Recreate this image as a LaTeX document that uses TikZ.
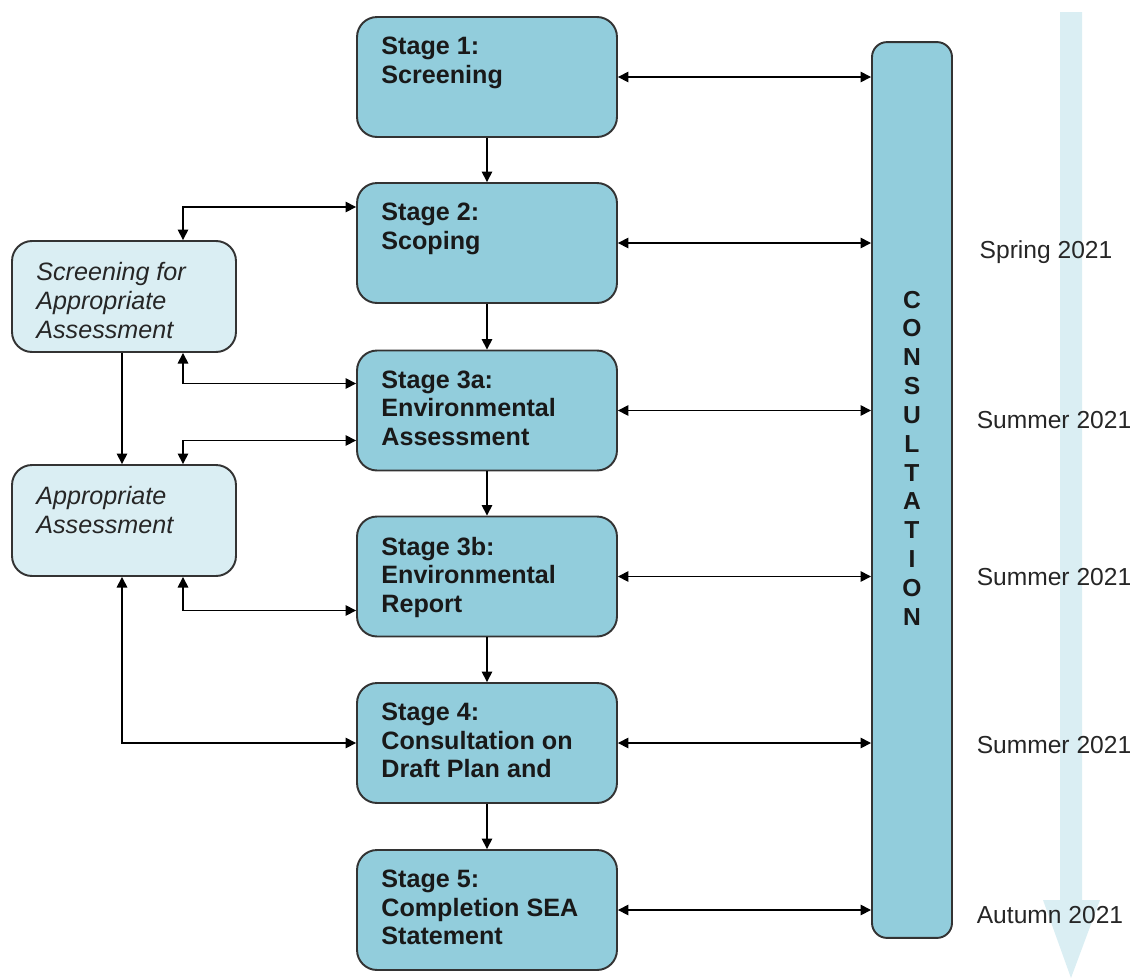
\documentclass[tikz,border=0pt]{standalone}
\usepackage{fontspec}
\setmainfont{Liberation Sans}
\usetikzlibrary{arrows.meta,calc}
\definecolor{stagefill}{HTML}{92CDDC}
\definecolor{lightfill}{HTML}{DAEEF3}
\definecolor{edgecol}{HTML}{333333}
\begin{document}
\begin{tikzpicture}[x=0.02cm,y=-0.02cm,
  stagebox/.style={draw=edgecol, line width=1.1pt, fill=stagefill, rounded corners=0.4cm, minimum width=5.2cm, minimum height=2.4cm, inner sep=0},
  sidebox/.style={draw=edgecol, line width=1.1pt, fill=lightfill, rounded corners=0.4cm, minimum width=4.48cm, minimum height=2.22cm, inner sep=0},
  stagetext/.style={anchor=north west, inner sep=0, align=left, text=black!90, font=\fontsize{14.3}{16.2}\selectfont\bfseries},
  sidetext/.style={anchor=north west, inner sep=0, align=left, text=black!85, font=\fontsize{14.3}{16.5}\selectfont\itshape},
  timetext/.style={inner sep=0, text=black!85, font=\fontsize{14}{16}\selectfont},
  conn/.style={line width=0.9pt, {Triangle[length=6pt,width=6pt]}-{Triangle[length=6pt,width=6pt]}},
  flow/.style={line width=0.9pt, -{Triangle[length=6pt,width=6pt]}},
]
\useasboundingbox (0,0) rectangle (1134,978);
% timeline arrow
\fill[lightfill] (1060,12) -- (1082,12) -- (1082,900) -- (1100,900) -- (1071,978) -- (1043,900) -- (1060,900) -- cycle;

% stage boxes
\node[stagebox] (s1) at (487,77) {};
\node[stagebox] (s2) at (487,243) {};
\node[stagebox] (s3a) at (487,410.5) {};
\node[stagebox] (s3b) at (487,576.5) {};
\node[stagebox] (s4) at (487,743) {};
\node[stagebox] (s5) at (487,910) {};
\node[stagetext] (t1) at ($(s1.north west)+(25,21)$) {Stage 1:\\Screening};
\node[stagetext] (t2) at ($(s2.north west)+(25,21)$) {Stage 2:\\Scoping};
\node[stagetext] (t3a) at ($(s3a.north west)+(25,21)$) {Stage 3a:\\Environmental\\Assessment};
\node[stagetext] (t3b) at ($(s3b.north west)+(25,21)$) {Stage 3b:\\Environmental\\Report};
\node[stagetext] (t4) at ($(s4.north west)+(25,21)$) {Stage 4:\\Consultation on\\Draft Plan and};
\node[stagetext] (t5) at ($(s5.north west)+(25,21)$) {Stage 5:\\Completion SEA\\Statement};

% consultation bar
\node[stagebox, minimum width=1.6cm, minimum height=17.92cm, rounded corners=0.3cm] (cons) at (912,490) {};
\node[align=center, inner sep=0, text=black!90, font=\fontsize{14}{16.4}\selectfont\bfseries] (ctext) at (912,458) {C\\O\\N\\S\\U\\L\\T\\A\\T\\I\\O\\N};

% side boxes
\node[sidebox] (saa) at (124,296.5) {};
\node[sidebox] (aa) at (124,520.5) {};
\node[sidetext] (tsaa) at ($(saa.north west)+(25,22)$) {Screening for\\Appropriate\\Assessment};
\node[sidetext] (taa) at ($(aa.north west)+(25,22)$) {Appropriate\\Assessment};

% timeline labels
\node[timetext] (sp) at (1046,252) {Spring 2021};
\node[timetext] (su1) at (1054,420) {Summer 2021};
\node[timetext] (su2) at (1054,577) {Summer 2021};
\node[timetext] (su3) at (1054,745) {Summer 2021};
\node[timetext] (au) at (1050,915) {Autumn 2021};

% stage to consultation
\foreach \s in {s1,s2,s3a,s3b,s4,s5}
  \draw[conn] (\s.east) -- (\s.east -| cons.west);

% flow between stages
\draw[flow] (s1.south) -- (s2.north);
\draw[flow] (s2.south) -- (s3a.north);
\draw[flow] (s3a.south) -- (s3b.north);
\draw[flow] (s3b.south) -- (s4.north);
\draw[flow] (s4.south) -- (s5.north);

% left connectors
\coordinate (xl) at (183,0);
\coordinate (xm) at (122,0);
\draw[conn] (saa.north -| xl) |- ($(s2.west)+(0,-36)$);
\draw[conn] (saa.south -| xl) |- ($(s3a.west)+(0,-27)$);
\draw[conn] (aa.north -| xl) |- ($(s3a.west)+(0,30)$);
\draw[conn] (aa.south -| xl) |- ($(s3b.west)+(0,34)$);
\draw[flow] (saa.south -| xm) -- (aa.north -| xm);
\draw[conn] (aa.south -| xm) |- (s4.west);
\end{tikzpicture}
\end{document}
